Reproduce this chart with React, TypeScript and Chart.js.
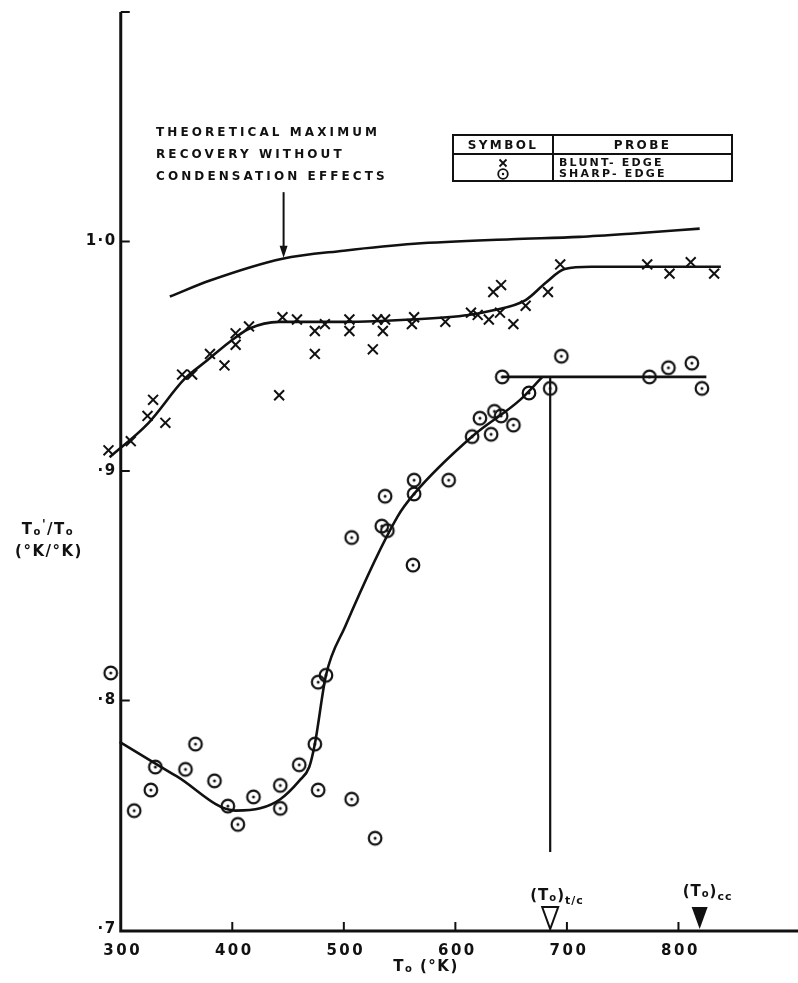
import React, { useEffect, useRef } from 'react';
import { Chart, registerables } from 'chart.js';

Chart.register(...registerables);

// Blunt-edge probe readings: stagnation temperature To (°K) and recovery ratio To'/To
const bluntTemps = [289, 309, 324, 329, 340, 355, 364, 380, 393, 403, 403, 415, 442, 445, 458, 474, 474, 483, 505, 505, 526, 530, 535, 537, 561, 563, 591, 614, 620, 630, 634, 641, 640, 652, 663, 683, 694, 772, 792, 811, 832];
const bluntRatios = [0.909, 0.913, 0.924, 0.931, 0.921, 0.942, 0.942, 0.951, 0.946, 0.960, 0.955, 0.963, 0.933, 0.967, 0.966, 0.961, 0.951, 0.964, 0.966, 0.961, 0.953, 0.966, 0.961, 0.966, 0.964, 0.967, 0.965, 0.969, 0.968, 0.966, 0.978, 0.981, 0.969, 0.964, 0.972, 0.978, 0.990, 0.990, 0.986, 0.991, 0.986];

// Sharp-edge probe readings
const sharpTemps = [291, 312, 327, 331, 358, 367, 384, 396, 405, 419, 443, 443, 460, 474, 484, 477, 477, 507, 528, 507, 534, 539, 537, 563, 563, 562, 594, 615, 622, 635, 641, 632, 652, 642, 666, 685, 695, 774, 791, 812, 821];
const sharpRatios = [0.812, 0.752, 0.761, 0.771, 0.770, 0.781, 0.765, 0.754, 0.746, 0.758, 0.763, 0.753, 0.772, 0.781, 0.811, 0.808, 0.761, 0.757, 0.740, 0.871, 0.876, 0.874, 0.889, 0.896, 0.890, 0.859, 0.896, 0.915, 0.923, 0.926, 0.924, 0.916, 0.920, 0.941, 0.934, 0.936, 0.950, 0.941, 0.945, 0.947, 0.936];

// Faired curves
const theoryTemps = [344, 380, 445, 500, 563, 650, 711, 760, 819];
const theoryRatios = [0.976, 0.983, 0.9925, 0.996, 0.999, 1.001, 1.002, 1.0035, 1.0056];

const bluntFitTemps = [290, 325, 357, 377, 397, 415, 442, 500, 560, 612, 634, 663, 681, 698, 722, 838];
const bluntFitRatios = [0.906, 0.921, 0.940, 0.948, 0.956, 0.962, 0.965, 0.965, 0.966, 0.968, 0.970, 0.9745, 0.982, 0.988, 0.989, 0.989];

const sharpFitTemps = [299, 350, 403, 425, 443, 460, 469, 474, 484, 501, 548, 563, 615, 658, 678];
const sharpFitRatios = [0.782, 0.767, 0.752, 0.753, 0.757, 0.765, 0.771, 0.781, 0.811, 0.832, 0.880, 0.890, 0.915, 0.931, 0.941];

const sharpPlateauTemps = [642, 825];
const sharpPlateauRatios = [0.941, 0.941];

// Characteristic temperatures marked on the abscissa
const tcTemp = 685;
const ccTemp = 819;
const tcDropFrom = 0.941;
const tcDropTo = 0.734;

// Axes (the plotting window reaches slightly past the drawn axes so edge points stay visible)
const xTickValues = [300, 400, 500, 600, 700, 800];
const xTickLabels = ['300', '400', '500', '600', '700', '800'];
const yTickValues = [0.7, 0.8, 0.9, 1.0];
const yTickLabels = ['·7', '·8', '·9', '1·0'];
const xAxisStart = 300;
const yAxisStart = 0.7;
const yAxisEnd = 1.1;
const xMin = 281.4;
const xMax = 899.1;
const yMin = 0.7;
const yMax = 1.1;

const legendProbes = ['BLUNT- EDGE', 'SHARP- EDGE'];
const noteLines = ['THEORETICAL MAXIMUM', 'RECOVERY WITHOUT', 'CONDENSATION EFFECTS'];
const noteArrowTemp = 446;
const noteArrowTop = 1.0215;

const FONT = '"DejaVu Sans", "Liberation Sans", sans-serif';
const INK = '#111';

type Run = { t: string; size: number; dy?: number };

function runsWidth(ctx: CanvasRenderingContext2D, runs: Run[], spacing: number) {
  let w = 0;
  for (const r of runs) {
    ctx.font = `bold ${r.size}px ${FONT}`;
    (ctx as any).letterSpacing = `${spacing}px`;
    w += ctx.measureText(r.t).width;
  }
  return w;
}

function drawRuns(ctx: CanvasRenderingContext2D, x: number, y: number, runs: Run[], spacing: number, align: 'left' | 'center' | 'right' = 'left') {
  const w = runsWidth(ctx, runs, spacing);
  let cx = align === 'left' ? x : align === 'center' ? x - w / 2 : x - w;
  ctx.textAlign = 'left';
  ctx.textBaseline = 'middle';
  for (const r of runs) {
    ctx.font = `bold ${r.size}px ${FONT}`;
    (ctx as any).letterSpacing = `${spacing}px`;
    ctx.fillText(r.t, cx, y + (r.dy || 0));
    cx += ctx.measureText(r.t).width;
  }
}

function makeDotCircle(): HTMLCanvasElement {
  const c = document.createElement('canvas');
  c.width = 18;
  c.height = 18;
  const g = c.getContext('2d')!;
  g.strokeStyle = INK;
  g.lineWidth = 2.2;
  g.beginPath();
  g.arc(9, 9, 6.3, 0, Math.PI * 2);
  g.stroke();
  g.fillStyle = INK;
  g.beginPath();
  g.arc(9, 9, 1.5, 0, Math.PI * 2);
  g.fill();
  return c;
}

function drawCross(ctx: CanvasRenderingContext2D, x: number, y: number, r: number) {
  ctx.beginPath();
  ctx.moveTo(x - r, y - r);
  ctx.lineTo(x + r, y + r);
  ctx.moveTo(x + r, y - r);
  ctx.lineTo(x - r, y + r);
  ctx.stroke();
}

const frame = {
  id: 'frame',
  beforeDatasetsDraw(chart: any) {
    const { ctx } = chart;
    const xs = chart.scales.x;
    const ys = chart.scales.y;
    const left = xs.getPixelForValue(xAxisStart);
    const bottom = ys.getPixelForValue(yAxisStart);
    ctx.save();
    ctx.strokeStyle = INK;
    ctx.lineCap = 'butt';
    ctx.lineWidth = 3;
    ctx.beginPath();
    ctx.moveTo(left, ys.getPixelForValue(yAxisEnd));
    ctx.lineTo(left, bottom + 1);
    ctx.lineTo(chart.width, bottom + 1);
    ctx.stroke();
    ctx.lineWidth = 2;
    ctx.beginPath();
    for (const v of [...yTickValues.slice(1), yAxisEnd]) {
      const py = ys.getPixelForValue(v);
      ctx.moveTo(left, py);
      ctx.lineTo(left + 9, py);
    }
    for (const v of xTickValues.slice(1)) {
      const px = xs.getPixelForValue(v);
      ctx.moveTo(px, bottom);
      ctx.lineTo(px, bottom - 8);
    }
    ctx.stroke();
    ctx.restore();
  },
  afterDatasetsDraw(chart: any) {
    const { ctx } = chart;
    const xs = chart.scales.x;
    const ys = chart.scales.y;
    const left = xs.getPixelForValue(xAxisStart);
    const bottom = ys.getPixelForValue(yAxisStart);
    ctx.save();
    ctx.fillStyle = INK;
    ctx.strokeStyle = INK;

    // tick labels
    yTickValues.forEach((v, i) => {
      const py = v === yAxisStart ? bottom - 1 : ys.getPixelForValue(v);
      drawRuns(ctx, left - 4, py, [{ t: yTickLabels[i], size: 15 }], 1.5, 'right');
    });
    xTickValues.forEach((v, i) => {
      drawRuns(ctx, xs.getPixelForValue(v) + 2, bottom + 21, [{ t: xTickLabels[i], size: 15 }], 2.5, 'center');
    });

    // axis titles
    drawRuns(ctx, 426, 967, [{ t: 'T', size: 15 }, { t: 'o', size: 10, dy: 2 }, { t: ' (°K)', size: 15 }], 1.5, 'center');
    drawRuns(ctx, 48, 530, [{ t: 'T', size: 15 }, { t: 'o', size: 10, dy: 2 }, { t: "'", size: 12, dy: -5 }, { t: '/T', size: 15 }, { t: 'o', size: 10, dy: 2 }], 1.5, 'center');
    drawRuns(ctx, 49, 552, [{ t: '(°K/°K)', size: 15 }], 1.5, 'center');

    // note on the theoretical curve
    noteLines.forEach((line, i) => {
      drawRuns(ctx, 156, 133 + i * 22, [{ t: line, size: 12 }], 3.1, 'left');
    });
    const ax = xs.getPixelForValue(noteArrowTemp);
    const aTop = ys.getPixelForValue(noteArrowTop);
    const aTip = ys.getPixelForValue(theoryRatios[2]) - 1;
    ctx.lineWidth = 2;
    ctx.beginPath();
    ctx.moveTo(ax, aTop);
    ctx.lineTo(ax, aTip - 8);
    ctx.stroke();
    ctx.beginPath();
    ctx.moveTo(ax - 4, aTip - 12);
    ctx.lineTo(ax + 4, aTip - 12);
    ctx.lineTo(ax, aTip);
    ctx.closePath();
    ctx.fill();

    // symbol table
    const L = 453, R = 732, T = 135, B = 181, D = 553, H = 154;
    ctx.lineWidth = 2;
    ctx.strokeRect(L, T, R - L, B - T);
    ctx.beginPath();
    ctx.moveTo(L, H);
    ctx.lineTo(R, H);
    ctx.moveTo(D, T);
    ctx.lineTo(D, B);
    ctx.stroke();
    drawRuns(ctx, (L + D) / 2, (T + H) / 2 + 1, [{ t: 'SYMBOL', size: 12 }], 2.4, 'center');
    drawRuns(ctx, (D + R) / 2, (T + H) / 2 + 1, [{ t: 'PROBE', size: 12 }], 2.4, 'center');
    const rowY = [163, 174];
    ctx.lineWidth = 1.8;
    drawCross(ctx, (L + D) / 2, rowY[0], 3.5);
    ctx.beginPath();
    ctx.arc((L + D) / 2, rowY[1], 4.8, 0, Math.PI * 2);
    ctx.stroke();
    ctx.beginPath();
    ctx.arc((L + D) / 2, rowY[1], 1.2, 0, Math.PI * 2);
    ctx.fill();
    legendProbes.forEach((p, i) => {
      drawRuns(ctx, D + 6, rowY[i], [{ t: p, size: 11 }], 2.2, 'left');
    });

    // (To)t/c drop line and the two abscissa markers
    const tx = xs.getPixelForValue(tcTemp);
    ctx.lineWidth = 2.2;
    ctx.beginPath();
    ctx.moveTo(tx, ys.getPixelForValue(tcDropFrom));
    ctx.lineTo(tx, ys.getPixelForValue(tcDropTo));
    ctx.stroke();
    const base = bottom - 1;
    ctx.lineWidth = 2;
    ctx.beginPath();
    ctx.moveTo(tx - 8, base - 22);
    ctx.lineTo(tx + 8, base - 22);
    ctx.lineTo(tx, base);
    ctx.closePath();
    ctx.stroke();
    const cx = xs.getPixelForValue(ccTemp);
    ctx.beginPath();
    ctx.moveTo(cx - 8, base - 22);
    ctx.lineTo(cx + 8, base - 22);
    ctx.lineTo(cx, base);
    ctx.closePath();
    ctx.fill();
    drawRuns(ctx, tx - 20, 896, [{ t: '(T', size: 15 }, { t: 'o', size: 10, dy: 2 }, { t: ')', size: 15 }, { t: 't/c', size: 11, dy: 5 }], 1, 'left');
    drawRuns(ctx, cx - 17, 892, [{ t: '(T', size: 15 }, { t: 'o', size: 10, dy: 2 }, { t: ')', size: 15 }, { t: 'cc', size: 11, dy: 5 }], 1, 'left');

    ctx.restore();
  },
};

function pts(xs: number[], ys: number[]) {
  return xs.map((x, i) => ({ x, y: ys[i] }));
}

export default function App() {
  const ref = useRef<HTMLCanvasElement | null>(null);

  useEffect(() => {
    document.body.style.margin = '0';
    const canvas = ref.current!;
    const dot = makeDotCircle();
    const curve = {
      showLine: true,
      pointRadius: 0,
      borderColor: INK,
      borderWidth: 2.6,
      cubicInterpolationMode: 'monotone' as const,
      clip: false as any,
    };
    const chart = new Chart(canvas, {
      type: 'scatter',
      data: {
        datasets: [
          {
            label: 'Blunt-edge',
            data: pts(bluntTemps, bluntRatios),
            pointStyle: 'crossRot',
            pointRadius: 7,
            pointBorderWidth: 2,
            borderColor: INK,
            backgroundColor: INK,
            clip: false as any,
          },
          {
            label: 'Sharp-edge',
            data: pts(sharpTemps, sharpRatios),
            pointStyle: dot as any,
            pointRadius: 7,
            borderColor: INK,
            backgroundColor: INK,
            clip: false as any,
          },
          { label: 'Theoretical', data: pts(theoryTemps, theoryRatios), ...curve },
          { label: 'Blunt fit', data: pts(bluntFitTemps, bluntFitRatios), ...curve },
          { label: 'Sharp fit', data: pts(sharpFitTemps, sharpFitRatios), ...curve },
          { label: 'Sharp plateau', data: pts(sharpPlateauTemps, sharpPlateauRatios), ...curve, cubicInterpolationMode: 'default' as const },
        ],
      },
      options: {
        responsive: false,
        animation: false,
        devicePixelRatio: 1,
        layout: { padding: { left: 100, right: 0, top: 12, bottom: 53 } },
        plugins: { legend: { display: false }, tooltip: { enabled: false } },
        events: [],
        scales: {
          x: { type: 'linear', min: xMin, max: xMax, display: false },
          y: { type: 'linear', min: yMin, max: yMax, display: false },
        },
      },
      plugins: [frame],
    });
    return () => chart.destroy();
  }, []);

  return (
    <div style={{ width: 798, height: 983, background: '#fff' }}>
      <canvas ref={ref} width={798} height={983} style={{ display: 'block' }} />
    </div>
  );
}
